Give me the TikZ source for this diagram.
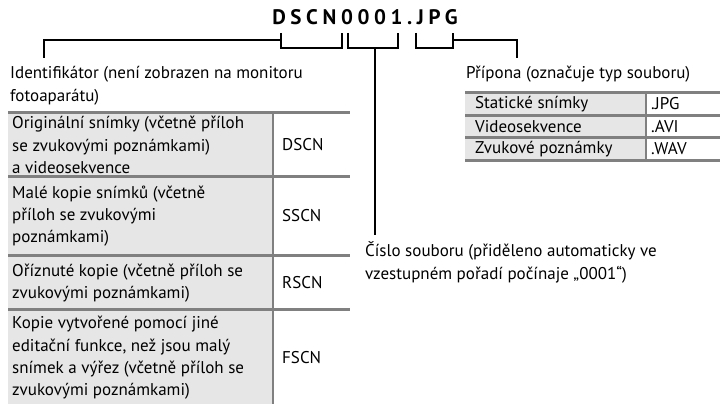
\documentclass[tikz,border=0pt]{standalone}
\usepackage{fontspec}
\usetikzlibrary{calc}
\setmainfont{PT Sans}
\definecolor{cellgray}{HTML}{E6E6E6}
\definecolor{rulegray}{HTML}{808080}
\begin{document}
\begin{tikzpicture}[x=1pt,y=-1pt,
  brk/.style={line width=2pt,black},
  rule/.style={line width=3pt,rulegray},
  vrule/.style={line width=2.5pt,rulegray},
  txt/.style={anchor=west,align=left,inner sep=0pt,font=\fontsize{17}{22.3}\selectfont},
  title/.style={inner sep=0pt,font=\fontsize{21}{22}\selectfont\bfseries\addfontfeature{LetterSpace=22}}]
\useasboundingbox (0,0) rectangle (720,404);
% title
\node[title] (ttl) at (365,17) {DSCN0001.JPG};
% bracket coordinates
\coordinate (a1) at (281,33); \coordinate (a2) at (342,33);
\coordinate (b1) at (348,33); \coordinate (b2) at (398,33);
\coordinate (c1) at (416,33); \coordinate (c2) at (453,33);
\coordinate (idend) at (44,58);
\coordinate (numend) at (375,235);
\coordinate (extend) at (517,58);
% brackets
\draw[brk] (a1) -- ++(0,15) -| (a2);
\draw[brk] (b1) -- ++(0,15) -| (b2);
\draw[brk] (c1) -- ++(0,15) -| (c2);
\draw[brk] (idend) |- ($(a1)+(0,7)$);
\draw[brk] (375,48) -- (numend);
\draw[brk] ($(c2)+(0,7)$) -| (extend);
% labels
\node[txt,anchor=north west,font=\fontsize{17}{23}\selectfont] (idlab) at (10,66) {Identifikátor (není zobrazen na monitoru\\fotoaparátu)};
\node[txt,anchor=north west] (extlab) at (466,66) {Přípona (označuje typ souboru)};
\node[txt,anchor=north west] (numlab) at (365,242) {Číslo souboru (přiděleno automaticky ve\\vzestupném pořadí počínaje „0001“)};
% left table
\fill[cellgray] (8,112) rectangle (273,404);
\foreach \yy in {112,176,255,309} \draw[rule] (8,\yy) -- (350,\yy);
\draw[vrule] (273,112) -- (273,404);
\node[txt] (r1) at (12,145) {Originální snímky (včetně příloh\\se zvukovými poznámkami)\\a videosekvence};
\node[txt] (r1c) at (282,145) {DSCN};
\node[txt] (r2) at (12,216) {Malé kopie snímků (včetně\\příloh se zvukovými\\poznámkami)};
\node[txt] (r2c) at (282,216) {SSCN};
\node[txt] (r3) at (12,283) {Oříznuté kopie (včetně příloh se\\zvukovými poznámkami)};
\node[txt] (r3c) at (282,283) {RSCN};
\node[txt] (r4) at (12,358) {Kopie vytvořené pomocí jiné\\editační funkce, než jsou malý\\snímek a výřez (včetně příloh se\\zvukovými poznámkami)};
\node[txt] (r4c) at (282,358) {FSCN};
% right table
\fill[cellgray] (465,92) rectangle (646,160);
\foreach \yy in {92,115,137,160} \draw[rule] (465,\yy) -- (720,\yy);
\draw[vrule] (646,92) -- (646,160);
\node[txt] (e1) at (475,104) {Statické snímky};
\node[txt] (e1c) at (651,104) {.JPG};
\node[txt] (e2) at (475,126.5) {Videosekvence};
\node[txt] (e2c) at (651,126.5) {.AVI};
\node[txt] (e3) at (475,149) {Zvukové poznámky};
\node[txt] (e3c) at (651,149) {.WAV};
\end{tikzpicture}
\end{document}
